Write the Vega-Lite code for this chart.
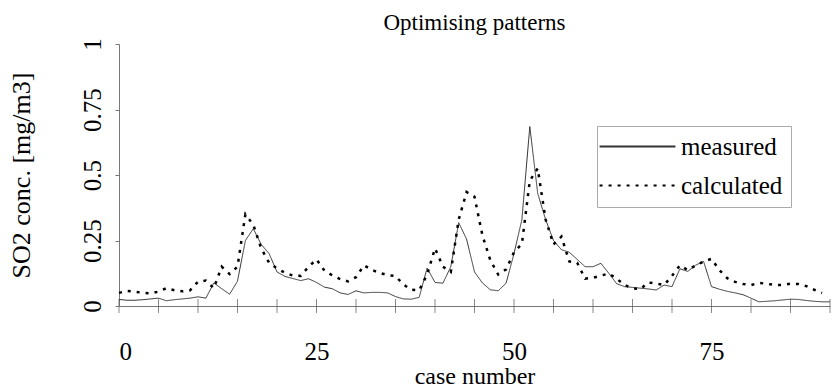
{
  "$schema": "https://vega.github.io/schema/vega-lite/v6.json",
  "autosize": "none",
  "width": 711,
  "height": 262,
  "padding": {"left": 119, "top": 44, "right": 6, "bottom": 84},
  "background": "white",
  "config": {
    "view": {"stroke": null},
    "font": "Liberation Serif"
  },
  "title": {"text": "Optimising patterns", "font": "Liberation Serif", "fontSize": 23, "fontWeight": "normal", "color": "black", "anchor": "middle", "offset": 10, "dy": 7},
  "datasets": {
    "series": [
      {"case": 0, "measured": 0.025, "calculated": 0.05},
      {"case": 1, "measured": 0.022, "calculated": 0.058},
      {"case": 2, "measured": 0.022, "calculated": 0.055},
      {"case": 3, "measured": 0.024, "calculated": 0.05},
      {"case": 4, "measured": 0.027, "calculated": 0.048},
      {"case": 5, "measured": 0.03, "calculated": 0.055},
      {"case": 6, "measured": 0.02, "calculated": 0.068},
      {"case": 7, "measured": 0.024, "calculated": 0.06},
      {"case": 8, "measured": 0.027, "calculated": 0.056},
      {"case": 9, "measured": 0.03, "calculated": 0.06},
      {"case": 10, "measured": 0.035, "calculated": 0.093},
      {"case": 11, "measured": 0.03, "calculated": 0.097},
      {"case": 12, "measured": 0.088, "calculated": 0.068},
      {"case": 13, "measured": 0.066, "calculated": 0.15},
      {"case": 14, "measured": 0.045, "calculated": 0.122},
      {"case": 15, "measured": 0.095, "calculated": 0.15},
      {"case": 16, "measured": 0.25, "calculated": 0.35},
      {"case": 17, "measured": 0.295, "calculated": 0.31},
      {"case": 18, "measured": 0.235, "calculated": 0.22},
      {"case": 19, "measured": 0.2, "calculated": 0.165},
      {"case": 20, "measured": 0.13, "calculated": 0.143},
      {"case": 21, "measured": 0.113, "calculated": 0.127},
      {"case": 22, "measured": 0.105, "calculated": 0.116},
      {"case": 23, "measured": 0.097, "calculated": 0.115},
      {"case": 24, "measured": 0.104, "calculated": 0.15},
      {"case": 25, "measured": 0.09, "calculated": 0.178},
      {"case": 26, "measured": 0.072, "calculated": 0.135},
      {"case": 27, "measured": 0.066, "calculated": 0.117},
      {"case": 28, "measured": 0.05, "calculated": 0.103},
      {"case": 29, "measured": 0.044, "calculated": 0.094},
      {"case": 30, "measured": 0.058, "calculated": 0.11},
      {"case": 31, "measured": 0.05, "calculated": 0.155},
      {"case": 32, "measured": 0.052, "calculated": 0.138},
      {"case": 33, "measured": 0.052, "calculated": 0.126},
      {"case": 34, "measured": 0.05, "calculated": 0.118},
      {"case": 35, "measured": 0.036, "calculated": 0.114},
      {"case": 36, "measured": 0.027, "calculated": 0.082},
      {"case": 37, "measured": 0.026, "calculated": 0.062},
      {"case": 38, "measured": 0.033, "calculated": 0.06},
      {"case": 39, "measured": 0.145, "calculated": 0.12},
      {"case": 40, "measured": 0.09, "calculated": 0.22},
      {"case": 41, "measured": 0.087, "calculated": 0.15},
      {"case": 42, "measured": 0.15, "calculated": 0.13},
      {"case": 43, "measured": 0.318, "calculated": 0.33},
      {"case": 44, "measured": 0.255, "calculated": 0.435},
      {"case": 45, "measured": 0.13, "calculated": 0.417},
      {"case": 46, "measured": 0.088, "calculated": 0.27},
      {"case": 47, "measured": 0.062, "calculated": 0.175},
      {"case": 48, "measured": 0.058, "calculated": 0.12},
      {"case": 49, "measured": 0.087, "calculated": 0.14},
      {"case": 50, "measured": 0.2, "calculated": 0.205},
      {"case": 51, "measured": 0.33, "calculated": 0.237},
      {"case": 52, "measured": 0.685, "calculated": 0.478},
      {"case": 53, "measured": 0.43, "calculated": 0.525},
      {"case": 54, "measured": 0.33, "calculated": 0.33},
      {"case": 55, "measured": 0.25, "calculated": 0.235},
      {"case": 56, "measured": 0.215, "calculated": 0.265},
      {"case": 57, "measured": 0.205, "calculated": 0.17},
      {"case": 58, "measured": 0.178, "calculated": 0.165},
      {"case": 59, "measured": 0.15, "calculated": 0.104},
      {"case": 60, "measured": 0.15, "calculated": 0.108},
      {"case": 61, "measured": 0.163, "calculated": 0.116},
      {"case": 62, "measured": 0.125, "calculated": 0.124},
      {"case": 63, "measured": 0.085, "calculated": 0.104},
      {"case": 64, "measured": 0.074, "calculated": 0.08},
      {"case": 65, "measured": 0.071, "calculated": 0.068},
      {"case": 66, "measured": 0.068, "calculated": 0.064},
      {"case": 67, "measured": 0.065, "calculated": 0.09},
      {"case": 68, "measured": 0.061, "calculated": 0.085},
      {"case": 69, "measured": 0.08, "calculated": 0.08},
      {"case": 70, "measured": 0.074, "calculated": 0.115},
      {"case": 71, "measured": 0.142, "calculated": 0.155},
      {"case": 72, "measured": 0.132, "calculated": 0.137},
      {"case": 73, "measured": 0.156, "calculated": 0.155},
      {"case": 74, "measured": 0.17, "calculated": 0.17},
      {"case": 75, "measured": 0.074, "calculated": 0.18},
      {"case": 76, "measured": 0.064, "calculated": 0.137},
      {"case": 77, "measured": 0.056, "calculated": 0.106},
      {"case": 78, "measured": 0.05, "calculated": 0.092},
      {"case": 79, "measured": 0.043, "calculated": 0.084},
      {"case": 80, "measured": 0.03, "calculated": 0.08},
      {"case": 81, "measured": 0.016, "calculated": 0.088},
      {"case": 82, "measured": 0.018, "calculated": 0.085},
      {"case": 83, "measured": 0.02, "calculated": 0.08},
      {"case": 84, "measured": 0.023, "calculated": 0.08},
      {"case": 85, "measured": 0.026, "calculated": 0.085},
      {"case": 86, "measured": 0.025, "calculated": 0.084},
      {"case": 87, "measured": 0.021, "calculated": 0.076},
      {"case": 88, "measured": 0.018, "calculated": 0.062},
      {"case": 89, "measured": 0.016, "calculated": 0.05},
      {"case": 90, "measured": 0.016, "calculated": null}
    ],
    "ticks": [
      {"t": 0}, {"t": 5}, {"t": 10}, {"t": 15}, {"t": 20}, {"t": 25}, {"t": 30}, {"t": 35}, {"t": 40}, {"t": 45},
      {"t": 50}, {"t": 55}, {"t": 60}, {"t": 65}, {"t": 70}, {"t": 75}, {"t": 80}, {"t": 85}, {"t": 90}
    ]
  },
  "layer": [
    {
      "data": {"name": "ticks"},
      "mark": {"type": "tick", "orient": "vertical", "size": 14, "thickness": 1, "color": "#555"},
      "encoding": {
        "x": {"field": "t", "type": "quantitative", "scale": {"domain": [0, 90], "nice": false, "zero": false},
          "axis": {"values": [0, 25, 50, 75], "ticks": false, "tickSize": 0, "labelPadding": 33, "labelFont": "Liberation Serif", "labelFontSize": 25, "labelColor": "black", "domainColor": "#777", "domainWidth": 1, "grid": false,
            "title": "case number", "titleFont": "Liberation Serif", "titleFontSize": 24, "titleFontWeight": "normal", "titleColor": "black", "titlePadding": 0}},
        "y": {"datum": 0, "type": "quantitative", "scale": {"domain": [0, 1], "nice": false},
          "axis": {"values": [0, 0.25, 0.5, 0.75, 1], "format": ".2~f", "labelAngle": 270, "labelAlign": "center", "labelBaseline": "bottom", "labelPadding": 10, "tickSize": 4, "tickColor": "#777", "labelFont": "Liberation Serif", "labelFontSize": 25, "labelColor": "black", "domainColor": "#777", "domainWidth": 1, "grid": false,
            "title": "SO2 conc. [mg/m3]", "titleFont": "Liberation Serif", "titleFontSize": 26, "titleFontWeight": "normal", "titleColor": "black", "titlePadding": 46}}
      }
    },
    {
      "data": {"name": "series"},
      "mark": {"type": "line", "strokeWidth": 1, "interpolate": "linear"},
      "encoding": {
        "x": {"field": "case", "type": "quantitative"},
        "y": {"field": "measured", "type": "quantitative"},
        "color": {"datum": "measured", "type": "nominal"},
        "strokeDash": {"datum": "measured", "type": "nominal"}
      }
    },
    {
      "data": {"name": "series"},
      "mark": {"type": "line", "strokeWidth": 2.5, "interpolate": "linear"},
      "encoding": {
        "x": {"field": "case", "type": "quantitative"},
        "y": {"field": "calculated", "type": "quantitative"},
        "color": {"datum": "calculated", "type": "nominal", "scale": {"domain": ["measured", "calculated"], "range": ["#333333", "#000000"]},
          "legend": {"title": null, "orient": "none", "legendX": 478, "legendY": 82, "symbolType": "M-5,0H5", "symbolSize": 230, "symbolOffset": 20, "symbolStrokeWidth": 2, "labelFont": "Liberation Serif", "labelFontSize": 25, "labelColor": "black", "labelOffset": 31, "padding": 8, "rowPadding": 13, "strokeColor": "#aaaaaa", "fillColor": "white"}},
        "strokeDash": {"datum": "calculated", "type": "nominal", "scale": {"domain": ["measured", "calculated"], "range": [[1, 0], [3, 6]]}}
      }
    }
  ]
}
